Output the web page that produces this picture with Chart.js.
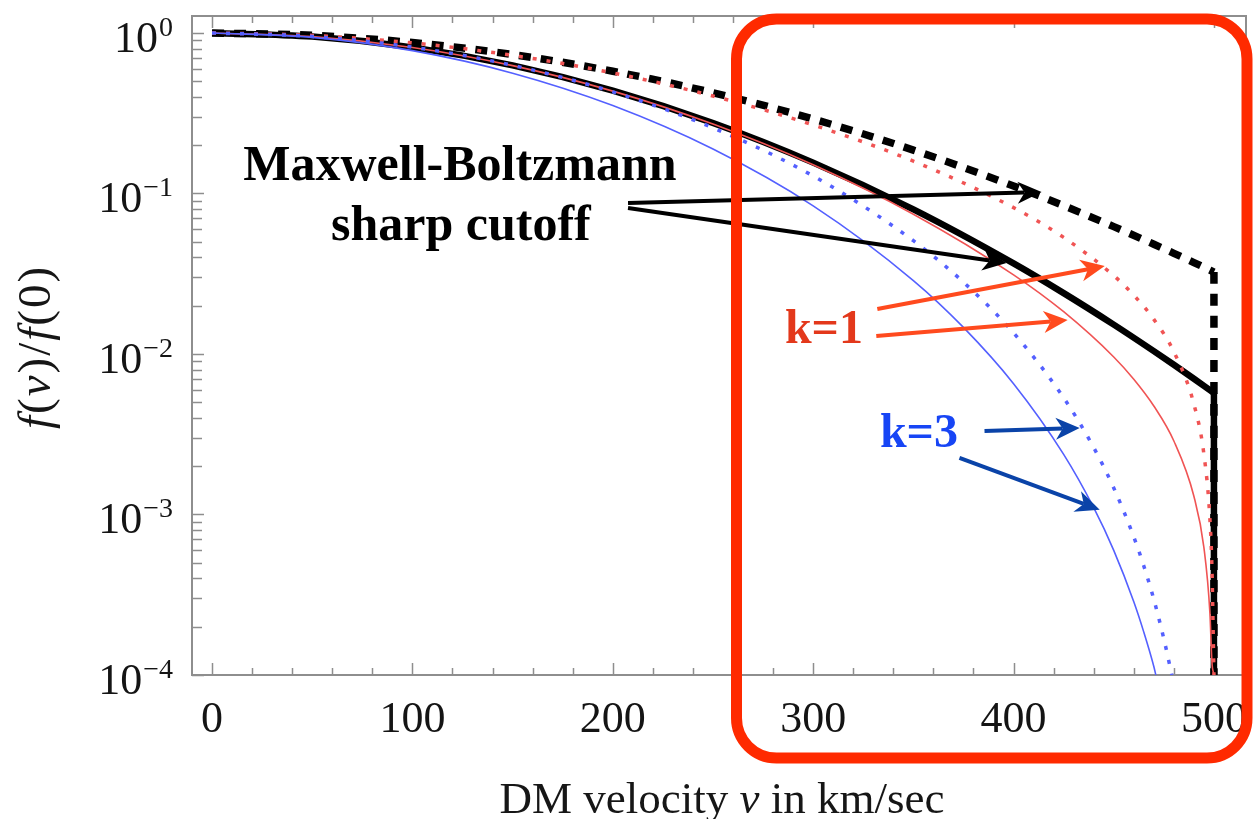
<!DOCTYPE html>
<html>
<head>
<meta charset="utf-8">
<script src="https://cdn.jsdelivr.net/npm/chart.js@4.4.1/dist/chart.umd.min.js"></script>
<style>
  html, body { margin: 0; padding: 0; background: #ffffff; }
  #wrap { width: 1253px; height: 819px; position: relative; }
</style>
</head>
<body>
<div id="wrap"><canvas id="chart" width="1253" height="819"></canvas></div>
<script>
// ---- velocity distributions f(v)/f(0), v in km/s ----
const cutoffVelocity = 500;
const floorValue = 1e-4;

// Maxwell-Boltzmann with sharp cutoff, v0 = 220 km/s
const mb220V = [0, 50, 100, 150, 200, 250, 300, 350, 400, 425, 450, 470, 480, 490, 495, 500];
const mb220F = [1, 0.9497, 0.8133, 0.6282, 0.4376, 0.2749, 0.1557, 0.07959, 0.03668, 0.02395, 0.01524, 0.01042, 0.00857, 0.00701, 0.00633, 0.00571];

// Maxwell-Boltzmann with sharp cutoff, v0 = 270 km/s
const mb270V = [0, 50, 100, 150, 200, 250, 300, 350, 400, 425, 450, 470, 480, 490, 495, 500];
const mb270F = [1, 0.9663, 0.8718, 0.7344, 0.5777, 0.4243, 0.2910, 0.1863, 0.1114, 0.08394, 0.06218, 0.04830, 0.04240, 0.03713, 0.03470, 0.03241];

// k = 1, v0 = 220 km/s
const k1v220V = [0, 50, 100, 150, 200, 250, 300, 350, 400, 425, 450, 460, 470, 480, 490, 495, 498, 499, 500];
const k1v220F = [1, 0.9494, 0.8123, 0.6261, 0.4344, 0.2707, 0.1509, 0.07430, 0.03115, 0.01834, 0.00958, 0.00696, 0.00474, 0.00287, 0.00130, 0.000622, 0.000242, 0.000120, 0.0001];

// k = 1, v0 = 270 km/s
const k1v270V = [0, 50, 100, 150, 200, 250, 300, 350, 400, 425, 450, 460, 470, 480, 490, 495, 498, 499, 500];
const k1v270F = [1, 0.9652, 0.8675, 0.7256, 0.5635, 0.4050, 0.2672, 0.1590, 0.08162, 0.05325, 0.03076, 0.02323, 0.01643, 0.01033, 0.00487, 0.00237, 0.00093, 0.00046, 0.0001];

// k = 3, v0 = 220 km/s
const k3v220V = [0, 50, 100, 150, 200, 250, 300, 350, 375, 400, 425, 440, 450, 460, 465, 470, 471];
const k3v220F = [1, 0.9389, 0.7761, 0.5619, 0.3531, 0.1892, 0.08373, 0.02868, 0.01464, 0.006528, 0.002370, 0.001103, 0.000598, 0.000286, 0.000185, 0.000113, 0.0001];

// k = 3, v0 = 270 km/s
const k3v270V = [0, 50, 100, 150, 200, 250, 300, 350, 375, 400, 425, 440, 450, 460, 465, 470, 475, 479];
const k3v270F = [1, 0.9508, 0.8158, 0.6283, 0.4297, 0.2561, 0.1286, 0.05082, 0.02802, 0.01353, 0.005335, 0.002611, 0.001464, 0.000725, 0.000478, 0.000296, 0.000168, 0.0001];

// ---- axis ticks ----
const xTickValues = [0, 100, 200, 300, 400, 500];
const xTickLabels = ['0', '100', '200', '300', '400', '500'];
const xMinorStep = 20;
const yDecades = [0, -1, -2, -3, -4];
const yDecadeLabels = ['0', '\u22121', '\u22122', '\u22123', '\u22124'];

// ---- annotations (data coordinates) ----
const noteTexts = [
  { text: 'Maxwell-Boltzmann', v: 123.7, f: 0.1214, align: 'center', color: '#000000', size: 50 },
  { text: 'sharp cutoff', v: 124.2, f: 0.05133, align: 'center', color: '#000000', size: 50 },
  { text: 'k=1', v: 285.9, f: 0.01171, align: 'left', color: '#e3381b', size: 48 },
  { text: 'k=3', v: 333.3, f: 0.002634, align: 'left', color: '#1745f5', size: 48 }
];
const noteArrows = [
  { from: [207.6, 0.0873], to: [414.0, 0.102], color: '#000000' },
  { from: [207.6, 0.0812], to: [396.5, 0.0369], color: '#000000' },
  { from: [332.0, 0.01906], to: [445.5, 0.0353], color: '#ff4a1e' },
  { from: [331.5, 0.01295], to: [427.0, 0.01629], color: '#ff4a1e' },
  { from: [385.5, 0.00331], to: [433.0, 0.00346], color: '#0a43a8' },
  { from: [373.0, 0.00225], to: [443.0, 0.00107], color: '#0a43a8' }
];

const toPoints = (vs, fs) => vs.map((v, i) => ({ x: v, y: fs[i] }));
const dropPoints = (fs) => [{ x: cutoffVelocity, y: fs[fs.length - 1] }, { x: cutoffVelocity, y: floorValue }];

const SERIF = '"Liberation Serif", "Times New Roman", serif';

// frame, tick marks and tick labels, drawn from the chart's own scales
const frameAxes = {
  id: 'frameAxes',
  beforeDatasetsDraw(chart) {
    const { ctx, chartArea: a, scales: { x, y } } = chart;
    ctx.save();
    ctx.strokeStyle = '#8e8e8e';
    ctx.lineWidth = 2;
    ctx.strokeRect(a.left, a.top, a.right - a.left, a.bottom - a.top);

    ctx.lineWidth = 1.5;
    ctx.beginPath();
    for (let v = 0; v <= x.max; v += xMinorStep) {
      const px = Math.round(x.getPixelForValue(v)) + 0.5;
      const len = (v % 100 === 0) ? 12 : 7;
      ctx.moveTo(px, a.bottom); ctx.lineTo(px, a.bottom - len);
      ctx.moveTo(px, a.top); ctx.lineTo(px, a.top + len);
    }
    for (const d of yDecades) {
      for (let m = 1; m <= 9; m++) {
        const val = m * Math.pow(10, d);
        if (val < y.min * 0.999 || val > y.max) continue;
        const py = Math.round(y.getPixelForValue(val)) + 0.5;
        const len = m === 1 ? 12 : 10;
        ctx.moveTo(a.left, py); ctx.lineTo(a.left + len, py);
      }
    }
    ctx.stroke();

    // x tick labels
    ctx.fillStyle = '#141414';
    ctx.font = '44px ' + SERIF;
    ctx.textAlign = 'center';
    ctx.textBaseline = 'alphabetic';
    xTickValues.forEach((v, i) => {
      ctx.fillText(xTickLabels[i], x.getPixelForValue(v), a.bottom + 57);
    });

    // y tick labels: 10 with superscript exponent
    const rightEdge = a.left - 19;
    yDecades.forEach((d, i) => {
      const py = y.getPixelForValue(Math.pow(10, d));
      ctx.textAlign = 'right';
      ctx.font = '28px ' + SERIF;
      const supW = ctx.measureText(yDecadeLabels[i]).width;
      ctx.fillText(yDecadeLabels[i], rightEdge, py + 3);
      ctx.font = '44px ' + SERIF;
      ctx.fillText('10', rightEdge - supW - 1, py + 19);
    });

    // axis titles
    const drawPieces = (pieces, cx, cy, size, gap) => {
      let total = 0;
      const widths = pieces.map(p => {
        ctx.font = (p[1] ? 'italic ' : '') + size + 'px ' + SERIF;
        const w = ctx.measureText(p[0]).width;
        total += w;
        return w;
      });
      total += gap * (pieces.length - 1);
      let cur = cx - total / 2;
      ctx.textAlign = 'left';
      pieces.forEach((p, i) => {
        ctx.font = (p[1] ? 'italic ' : '') + size + 'px ' + SERIF;
        ctx.fillText(p[0], cur, cy);
        cur += widths[i] + gap;
      });
    };
    ctx.fillStyle = '#161616';
    drawPieces([['DM velocity ', false], ['v', true], [' in km/sec', false]], 722, 813, 45, 0);

    ctx.save();
    ctx.translate(50, 348);
    ctx.rotate(-Math.PI / 2);
    drawPieces([['f', true], ['(', false], ['v', true], [')', false], ['/', false],
                ['f', true], ['(', false], ['0', false], [')', false]], 0, 0, 47, 2);
    ctx.restore();
    ctx.restore();
  }
};

function drawArrow(ctx, x0, y0, x1, y1, color, width) {
  const ang = Math.atan2(y1 - y0, x1 - x0);
  const c = Math.cos(ang), s = Math.sin(ang);
  const L = 24, H = 11, N = 17;
  const bx = x1 - N * c, by = y1 - N * s;
  ctx.strokeStyle = color;
  ctx.fillStyle = color;
  ctx.lineWidth = width;
  ctx.lineCap = 'butt';
  ctx.beginPath();
  ctx.moveTo(x0, y0);
  ctx.lineTo(bx, by);
  ctx.stroke();
  ctx.beginPath();
  ctx.moveTo(x1, y1);
  ctx.lineTo(x1 - L * c + H * s, y1 - L * s - H * c);
  ctx.lineTo(bx, by);
  ctx.lineTo(x1 - L * c - H * s, y1 - L * s + H * c);
  ctx.closePath();
  ctx.fill();
}

// labels, arrows and the highlight frame around the tail region
const notes = {
  id: 'notes',
  afterDatasetsDraw(chart) {
    const { ctx, scales: { x, y } } = chart;
    ctx.save();
    ctx.textBaseline = 'alphabetic';
    noteTexts.forEach(t => {
      ctx.font = 'bold ' + t.size + 'px ' + SERIF;
      ctx.fillStyle = t.color;
      ctx.textAlign = t.align;
      ctx.fillText(t.text, x.getPixelForValue(t.v), y.getPixelForValue(t.f));
    });
    noteArrows.forEach(n => {
      drawArrow(ctx,
        x.getPixelForValue(n.from[0]), y.getPixelForValue(n.from[1]),
        x.getPixelForValue(n.to[0]), y.getPixelForValue(n.to[1]),
        n.color, 4);
    });
    ctx.restore();
  },
  afterDraw(chart) {
    const { ctx } = chart;
    const l = 736.5, t = 19, r = 1247, b = 758, rad = 40;
    ctx.save();
    ctx.strokeStyle = '#ff2a00';
    ctx.lineWidth = 11;
    ctx.beginPath();
    ctx.moveTo(l + rad, t);
    ctx.lineTo(r - rad, t);
    ctx.arcTo(r, t, r, t + rad, rad);
    ctx.lineTo(r, b - rad);
    ctx.arcTo(r, b, r - rad, b, rad);
    ctx.lineTo(l + rad, b);
    ctx.arcTo(l, b, l, b - rad, rad);
    ctx.lineTo(l, t + rad);
    ctx.arcTo(l, t, l + rad, t, rad);
    ctx.closePath();
    ctx.stroke();
    ctx.restore();
  }
};

const base = { pointRadius: 0, fill: false, cubicInterpolationMode: 'monotone', borderCapStyle: 'butt' };
const blueColor = 'rgb(84, 96, 255)';
const redColor = 'rgb(240, 84, 84)';

new Chart(document.getElementById('chart').getContext('2d'), {
  type: 'line',
  data: {
    datasets: [
      { ...base, label: 'MB v0=270', data: toPoints(mb270V, mb270F), borderColor: '#000', borderWidth: 7.5, borderDash: [12, 10], order: 9 },
      { ...base, label: 'MB v0=270 cutoff', data: dropPoints(mb270F), borderColor: '#000', borderWidth: 7.5, borderDash: [12, 10], order: 9 },
      { ...base, label: 'MB v0=220', data: toPoints(mb220V, mb220F), borderColor: '#000', borderWidth: 6.5, order: 8 },
      { ...base, label: 'MB v0=220 cutoff', data: dropPoints(mb220F), borderColor: '#000', borderWidth: 6.5, order: 8 },
      { ...base, label: 'k=1 v0=220', data: toPoints(k1v220V, k1v220F), borderColor: redColor, borderWidth: 1.6, order: 4 },
      { ...base, label: 'k=1 v0=270', data: toPoints(k1v270V, k1v270F), borderColor: redColor, borderWidth: 3.5, borderDash: [4, 10], order: 3 },
      { ...base, label: 'k=3 v0=220', data: toPoints(k3v220V, k3v220F), borderColor: blueColor, borderWidth: 1.6, order: 2 },
      { ...base, label: 'k=3 v0=270', data: toPoints(k3v270V, k3v270F), borderColor: blueColor, borderWidth: 3.5, borderDash: [4, 10], order: 1 }
    ]
  },
  options: {
    responsive: false,
    animation: false,
    layout: { padding: { left: 192, right: 7, top: 16, bottom: 144 } },
    plugins: { legend: { display: false }, tooltip: { enabled: false } },
    scales: {
      x: { type: 'linear', min: -10, max: 516, display: false },
      y: { type: 'logarithmic', min: 1e-4, max: 1.276, display: false }
    }
  },
  plugins: [frameAxes, notes]
});
</script>
</body>
</html>
